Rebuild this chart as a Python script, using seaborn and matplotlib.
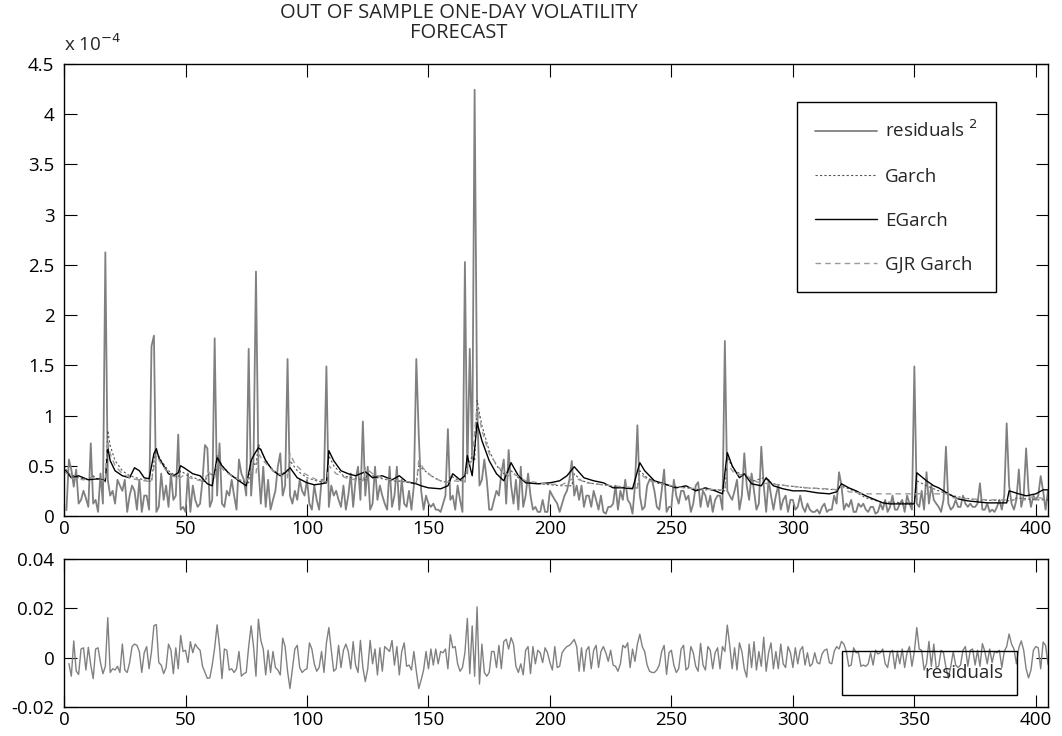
import numpy as np
import matplotlib
matplotlib.use('Agg')
import matplotlib.pyplot as plt
from matplotlib.ticker import FuncFormatter
import seaborn as sns

resid = [
    -2.4, -7.5, 6.8, -5.4, -6.8, 3.5, 4.0, -5.0, 4.2, -3.0,
    -8.5, 3.5, 4.0, -2.0, -6.5, -3.5, 16.2, -6.0, -4.5, -5.0,
    -3.5, -6.0, 5.5, -5.0, -6.0, -2.0, 4.5, 5.5, 5.0, 2.5,
    -6.0, 2.0, 4.5, -4.5, 2.5, 13.0, 13.4, -2.0, -3.0, -6.5,
    -4.0, 5.5, 3.0, -6.5, 4.0, -4.5, 9.0, 2.5, 3.0, -2.0,
    6.5, 2.0, 5.5, 4.0, 3.0, -3.5, -6.0, -8.4, -8.2, -3.0,
    4.0, 13.3, 4.5, -8.5, 3.5, 3.0, -5.0, -4.5, -6.0, -4.5,
    2.5, -7.5, -6.5, -6.0, 4.5, 12.9, 4.5, -7.5, 15.6, 7.0,
    3.5, -7.0, 3.0, -6.0, 2.5, -4.0, -5.0, -7.0, 7.9, 4.5,
    -5.5, -12.5, -4.5, 3.5, 5.0, -4.0, -6.0, -5.0, -4.5, 6.0,
    3.5, -2.5, -5.5, -4.0, 2.5, -6.0, 6.0, 12.2, 3.0, -5.5,
    -4.5, 5.0, -4.0, 3.0, 5.5, 2.5, -4.5, 6.5, -3.0, -6.0,
    7.0, -4.0, -9.7, -4.5, 7.0, -2.5, 3.5, -7.0, 4.0, -5.5,
    4.5, 3.5, 2.5, 7.0, -3.0, 4.5, -7.0, 2.5, 6.0, -3.5,
    -3.0, -5.0, 2.5, -5.5, -12.5, -9.0, -5.0, 2.5, -4.5, 3.5,
    -3.0, 3.5, -2.5, 2.5, 2.0, 3.5, -4.5, 9.3, 4.0, 4.5,
    -2.5, -5.5, -4.0, 2.0, 15.9, -6.5, 12.9, -7.5, 20.6, -10.7,
    5.5, -6.0, -7.5, -6.0, 2.5, 2.5, -4.0, 5.0, -4.5, 6.5,
    7.5, 3.5, 8.1, 5.5, -3.5, -6.0, -2.5, -7.0, 3.0, 4.5,
    -6.5, 4.5, -2.5, 3.0, 2.0, -2.0, 4.0, 2.0, -2.0, -5.0,
    4.5, -4.0, -3.5, 2.0, 3.5, 4.5, 5.0, 6.0, 7.4, 4.5,
    -5.5, 4.0, -5.5, 3.0, 4.5, -4.5, 3.0, 5.0, -4.0, 2.5,
    4.5, 2.0, -1.5, 3.0, -3.0, -3.5, -5.5, -2.5, 5.0, 4.0,
    6.0, -4.0, 3.5, -1.5, 5.5, 9.5, 4.5, 2.5, -3.0, -5.5,
    -6.0, -6.0, -5.0, -3.0, 2.5, 5.0, -6.8, 2.0, 3.0, -3.0,
    -6.0, -4.5, 3.5, 5.0, -5.0, -4.0, 4.5, 2.0, -3.5, -5.5,
    5.8, -3.0, -5.0, 4.5, 3.0, -4.5, 2.0, 4.0, -4.5, 4.5,
    2.5, 13.2, 5.0, -4.5, 4.0, -5.0, 6.0, 2.5, -4.5, -7.9,
    5.5, -4.0, 6.5, -5.0, 2.5, -3.5, 8.3, -5.5, 2.0, 6.0,
    -4.5, 2.5, -4.5, 5.5, -2.5, -4.0, 4.5, 2.0, -4.0, 4.0,
    -2.5, 3.0, 4.5, -3.0, 2.0, -3.5, -2.5, 2.0, -2.0, -2.5,
    1.5, 3.0, 3.5, -2.0, -2.5, 2.5, 4.5, 3.5, 6.6, 5.5,
    2.5, -3.5, -3.0, 4.0, 2.0, 2.0, -3.5, -3.0, -3.5, -2.5,
    2.0, -3.0, 3.0, 1.5, 2.0, 3.5, -2.5, -4.0, 2.0, 3.0,
    -4.5, 2.5, -2.5, 3.5, -4.0, 2.0, 4.5, -3.5, 2.5, 12.2,
    3.5, 3.0, -5.0, -2.5, 6.6, -3.5, 5.5, -4.0, -3.5, 3.0,
    2.0, -4.0, -8.3, -3.5, 2.5, -3.0, -4.0, -3.0, 3.0, 4.5,
    -3.5, 3.0, 3.5, -3.0, 3.0, -3.5, 5.7, 2.5, -2.5, 3.5,
    -2.0, 2.5, 2.0, 3.0, -4.0, 2.5, 4.5, 9.6, 5.5, 3.5,
    -2.5, 4.0, 6.8, 3.0, -4.5, -8.2, -5.0, 3.0, 4.5, 4.0,
    -4.5, 6.3, 5.0, -2.5, -5.0,
]

# one-day variance forecasts (x 1e-4), read at the turning points
egarch_day = [0, 3, 6, 10, 14, 17, 18, 19, 21, 24, 27, 29, 31, 33, 35, 37, 38, 39, 41, 43,
              45, 47, 48, 50, 53, 56, 59, 61, 63, 65, 68, 72, 75, 77, 78, 80, 81, 83, 86, 89,
              91, 93, 96, 100, 103, 106, 108, 109, 111, 114, 117, 120, 124, 127, 131, 135, 138,
              141, 145, 147, 150, 155, 158, 160, 163, 165, 166, 168, 170, 172, 175, 178, 181,
              184, 187, 190, 195, 200, 204, 207, 210, 214, 218, 222, 226, 230, 234, 237, 239,
              243, 247, 252, 256, 260, 264, 268, 271, 273, 275, 278, 280, 283, 287, 289, 292,
              296, 300, 305, 310, 315, 318, 320, 323, 326, 330, 334, 337, 340, 345, 350, 351,
              355, 358, 360, 364, 368, 372, 376, 380, 384, 388, 389, 393, 396, 400, 403, 405]
egarch_val = [0.47, 0.38, 0.40, 0.36, 0.37, 0.35, 0.68, 0.55, 0.45, 0.40, 0.38, 0.48, 0.45, 0.38, 0.37, 0.62, 0.67, 0.58, 0.50, 0.42,
              0.40, 0.43, 0.50, 0.47, 0.42, 0.40, 0.32, 0.30, 0.58, 0.50, 0.42, 0.35, 0.30, 0.55, 0.60, 0.68, 0.66, 0.55, 0.45, 0.40,
              0.43, 0.48, 0.38, 0.33, 0.31, 0.32, 0.33, 0.65, 0.55, 0.45, 0.42, 0.40, 0.44, 0.38, 0.40, 0.36, 0.40,
              0.34, 0.32, 0.30, 0.28, 0.27, 0.30, 0.42, 0.36, 0.40, 0.60, 0.40, 0.93, 0.75, 0.55, 0.42, 0.35,
              0.53, 0.40, 0.33, 0.32, 0.33, 0.35, 0.40, 0.49, 0.38, 0.35, 0.33, 0.28, 0.28, 0.27, 0.53, 0.45,
              0.35, 0.32, 0.28, 0.30, 0.25, 0.28, 0.25, 0.22, 0.63, 0.50, 0.38, 0.42, 0.32, 0.30, 0.38, 0.30,
              0.27, 0.25, 0.25, 0.23, 0.22, 0.24, 0.32, 0.28, 0.25, 0.20, 0.16, 0.13, 0.12, 0.12, 0.12, 0.43,
              0.35, 0.30, 0.28, 0.22, 0.17, 0.15, 0.14, 0.13, 0.13, 0.13, 0.25, 0.22, 0.20, 0.22, 0.26, 0.26]

garch_day = [0, 2, 6, 10, 12, 14, 17, 18, 19, 21, 24, 27, 31, 35, 36, 37, 38, 40, 43, 47,
             48, 51, 56, 58, 59, 60, 62, 63, 65, 69, 73, 76, 77, 79, 80, 82, 85, 89, 90, 92,
             93, 96, 100, 104, 108, 109, 111, 115, 120, 124, 125, 129, 135, 140, 145, 146, 148,
             151, 155, 158, 159, 162, 165, 166, 167, 168, 169, 170, 172, 175, 178, 181, 184,
             187, 192, 200, 205, 209, 210, 213, 218, 225, 232, 236, 237, 240, 245, 250, 256,
             262, 268, 272, 273, 276, 280, 284, 288, 292, 298, 305, 312, 318, 320, 325, 330,
             336, 350, 351, 355, 360, 366, 375, 390, 392, 400, 405]
garch_val = [0.50, 0.42, 0.38, 0.36, 0.40, 0.36, 0.34, 0.85, 0.70, 0.55, 0.45, 0.40, 0.37, 0.35, 0.34, 0.55, 0.65, 0.55, 0.45, 0.38,
             0.45, 0.40, 0.36, 0.34, 0.40, 0.42, 0.40, 0.60, 0.50, 0.40, 0.35, 0.33, 0.55, 0.50, 0.72, 0.60, 0.48, 0.40, 0.44, 0.40,
             0.55, 0.45, 0.38, 0.35, 0.33, 0.60, 0.50, 0.40, 0.37, 0.36, 0.42, 0.38, 0.35, 0.34, 0.32, 0.50, 0.46,
             0.40, 0.35, 0.33, 0.40, 0.36, 0.34, 0.60, 0.50, 0.62, 0.55, 1.15, 0.90, 0.65, 0.50, 0.42, 0.45,
             0.38, 0.33, 0.31, 0.30, 0.30, 0.42, 0.35, 0.32, 0.30, 0.28, 0.28, 0.45, 0.38, 0.32, 0.30, 0.28,
             0.26, 0.26, 0.25, 0.58, 0.45, 0.40, 0.35, 0.38, 0.32, 0.30, 0.28, 0.27, 0.26, 0.30, 0.25, 0.18,
             0.14, 0.13, 0.35, 0.30, 0.25, 0.20, 0.16, 0.15, 0.18, 0.16, 0.16]

gjr_day = [0, 3, 8, 12, 16, 17, 18, 19, 21, 24, 28, 33, 36, 37, 38, 40, 43, 47, 49, 53,
           58, 59, 61, 62, 63, 66, 70, 75, 77, 79, 80, 82, 86, 90, 92, 93, 95, 99, 104, 108,
           109, 112, 117, 123, 124, 127, 132, 138, 145, 146, 148, 152, 157, 160, 165, 166, 168,
           170, 172, 175, 179, 183, 185, 190, 198, 205, 210, 215, 222, 230, 236, 237, 241,
           248, 255, 262, 270, 272, 273, 276, 281, 285, 290, 298, 306, 314, 319, 320, 323,
           330, 351, 364, 366, 380, 396, 397, 405]
gjr_val = [0.45, 0.38, 0.36, 0.38, 0.35, 0.34, 0.75, 0.62, 0.50, 0.42, 0.37, 0.35, 0.34, 0.48, 0.60, 0.52, 0.42, 0.37, 0.40, 0.37,
           0.34, 0.45, 0.40, 0.38, 0.52, 0.45, 0.38, 0.34, 0.45, 0.42, 0.62, 0.55, 0.45, 0.40, 0.38, 0.62, 0.52, 0.42, 0.36, 0.34,
           0.50, 0.42, 0.37, 0.35, 0.48, 0.42, 0.37, 0.35, 0.33, 0.55, 0.47, 0.38, 0.33, 0.35, 0.34, 0.50, 0.55,
           1.10, 0.85, 0.62, 0.48, 0.40, 0.42, 0.35, 0.32, 0.31, 0.38, 0.33, 0.31, 0.29, 0.28, 0.42, 0.35,
           0.31, 0.28, 0.27, 0.26, 0.26, 0.52, 0.42, 0.40, 0.34, 0.32, 0.30, 0.28, 0.27, 0.26, 0.30, 0.24,
           0.22, 0.22, 0.22, 0.18, 0.16, 0.16, 0.19, 0.17]

res = np.array(resid) / 1000.0
days = np.arange(1, len(res) + 1)
res_sq = res ** 2 * 1e4  # shown in units of 1e-4

sns.set_theme(style='white')
plt.rcParams['font.family'] = ['Open Sans', 'DejaVu Sans']
plt.rcParams.update({
    'xtick.direction': 'in', 'ytick.direction': 'in',
    'xtick.bottom': True, 'ytick.left': True,
    'xtick.top': True, 'ytick.right': True,
    'xtick.major.size': 9, 'ytick.major.size': 9,
    'xtick.major.width': 0.8, 'ytick.major.width': 0.8,
    'xtick.color': 'black', 'ytick.color': 'black',
    'axes.edgecolor': 'black', 'axes.linewidth': 1.0,
    'xtick.labelsize': 13.5, 'ytick.labelsize': 13.5,
    'xtick.major.pad': 3, 'ytick.major.pad': 7,
})
FS = 13.5

fig = plt.figure(figsize=(10.62, 7.36), dpi=100)
ax1 = fig.add_axes([0.0603, 0.299, 0.9265, 0.614])
ax2 = fig.add_axes([0.0603, 0.0394, 0.9265, 0.2011])

sns.lineplot(x=days, y=res_sq, ax=ax1, color='#808080', lw=1.3, label='residuals $^{2}$', estimator=None)
sns.lineplot(x=garch_day, y=garch_val, ax=ax1, color='#555555', lw=0.8, linestyle=(0, (2, 2)),
             label='Garch', estimator=None)
sns.lineplot(x=egarch_day, y=egarch_val, ax=ax1, color='black', lw=1.0, label='EGarch', estimator=None)
sns.lineplot(x=gjr_day, y=gjr_val, ax=ax1, color='#999999', lw=1.0, linestyle=(0, (4, 3)),
             label='GJR Garch', estimator=None)

ax1.set_xlim(0, 405)
ax1.set_ylim(0, 4.5)
ax1.set_xticks(np.arange(0, 401, 50))
ax1.set_yticks(np.arange(0, 4.51, 0.5))
ax1.yaxis.set_major_formatter(FuncFormatter(lambda v, p: '%g' % v))
ax1.set_xlabel('')
ax1.set_ylabel('')
leg1 = ax1.legend(loc='upper left', bbox_to_anchor=(0.745, 0.916), borderaxespad=0, fontsize=FS,
                  handlelength=3.3, handletextpad=0.45, labelspacing=1.4, borderpad=0.95,
                  fancybox=False, framealpha=1, edgecolor='black')
leg1.get_frame().set_linewidth(1.0)

ax1.text(0.0, 1.02, 'x 10$^{-4}$', transform=ax1.transAxes, fontsize=FS, ha='left', va='bottom')
fig.text(0.432, 1 - 13 / 736, 'OUT OF SAMPLE ONE-DAY VOLATILITY', ha='center', va='center', fontsize=14.5)
fig.text(0.432, 1 - 33 / 736, 'FORECAST', ha='center', va='center', fontsize=14.5)

sns.lineplot(x=days + 1, y=res, ax=ax2, color='#808080', lw=1.0, label='residuals', estimator=None)
ax2.set_xlim(0, 405)
ax2.set_ylim(-0.02, 0.04)
ax2.set_xticks(np.arange(0, 401, 50))
ax2.set_yticks([-0.02, 0, 0.02, 0.04])
ax2.yaxis.set_major_formatter(FuncFormatter(lambda v, p: '%g' % v))
ax2.set_xlabel('')
ax2.set_ylabel('')
leg2 = ax2.legend(loc='upper left', bbox_to_anchor=(0.791, 0.378), borderaxespad=0, fontsize=FS,
                  handlelength=3.2, handletextpad=0.5, borderpad=0.7,
                  fancybox=False, framealpha=1, edgecolor='black')
leg2.get_frame().set_facecolor('none')
leg2.get_frame().set_linewidth(1.0)
for h in leg2.legend_handles:
    h.set_visible(False)

fig.savefig('out.png', dpi=100)
